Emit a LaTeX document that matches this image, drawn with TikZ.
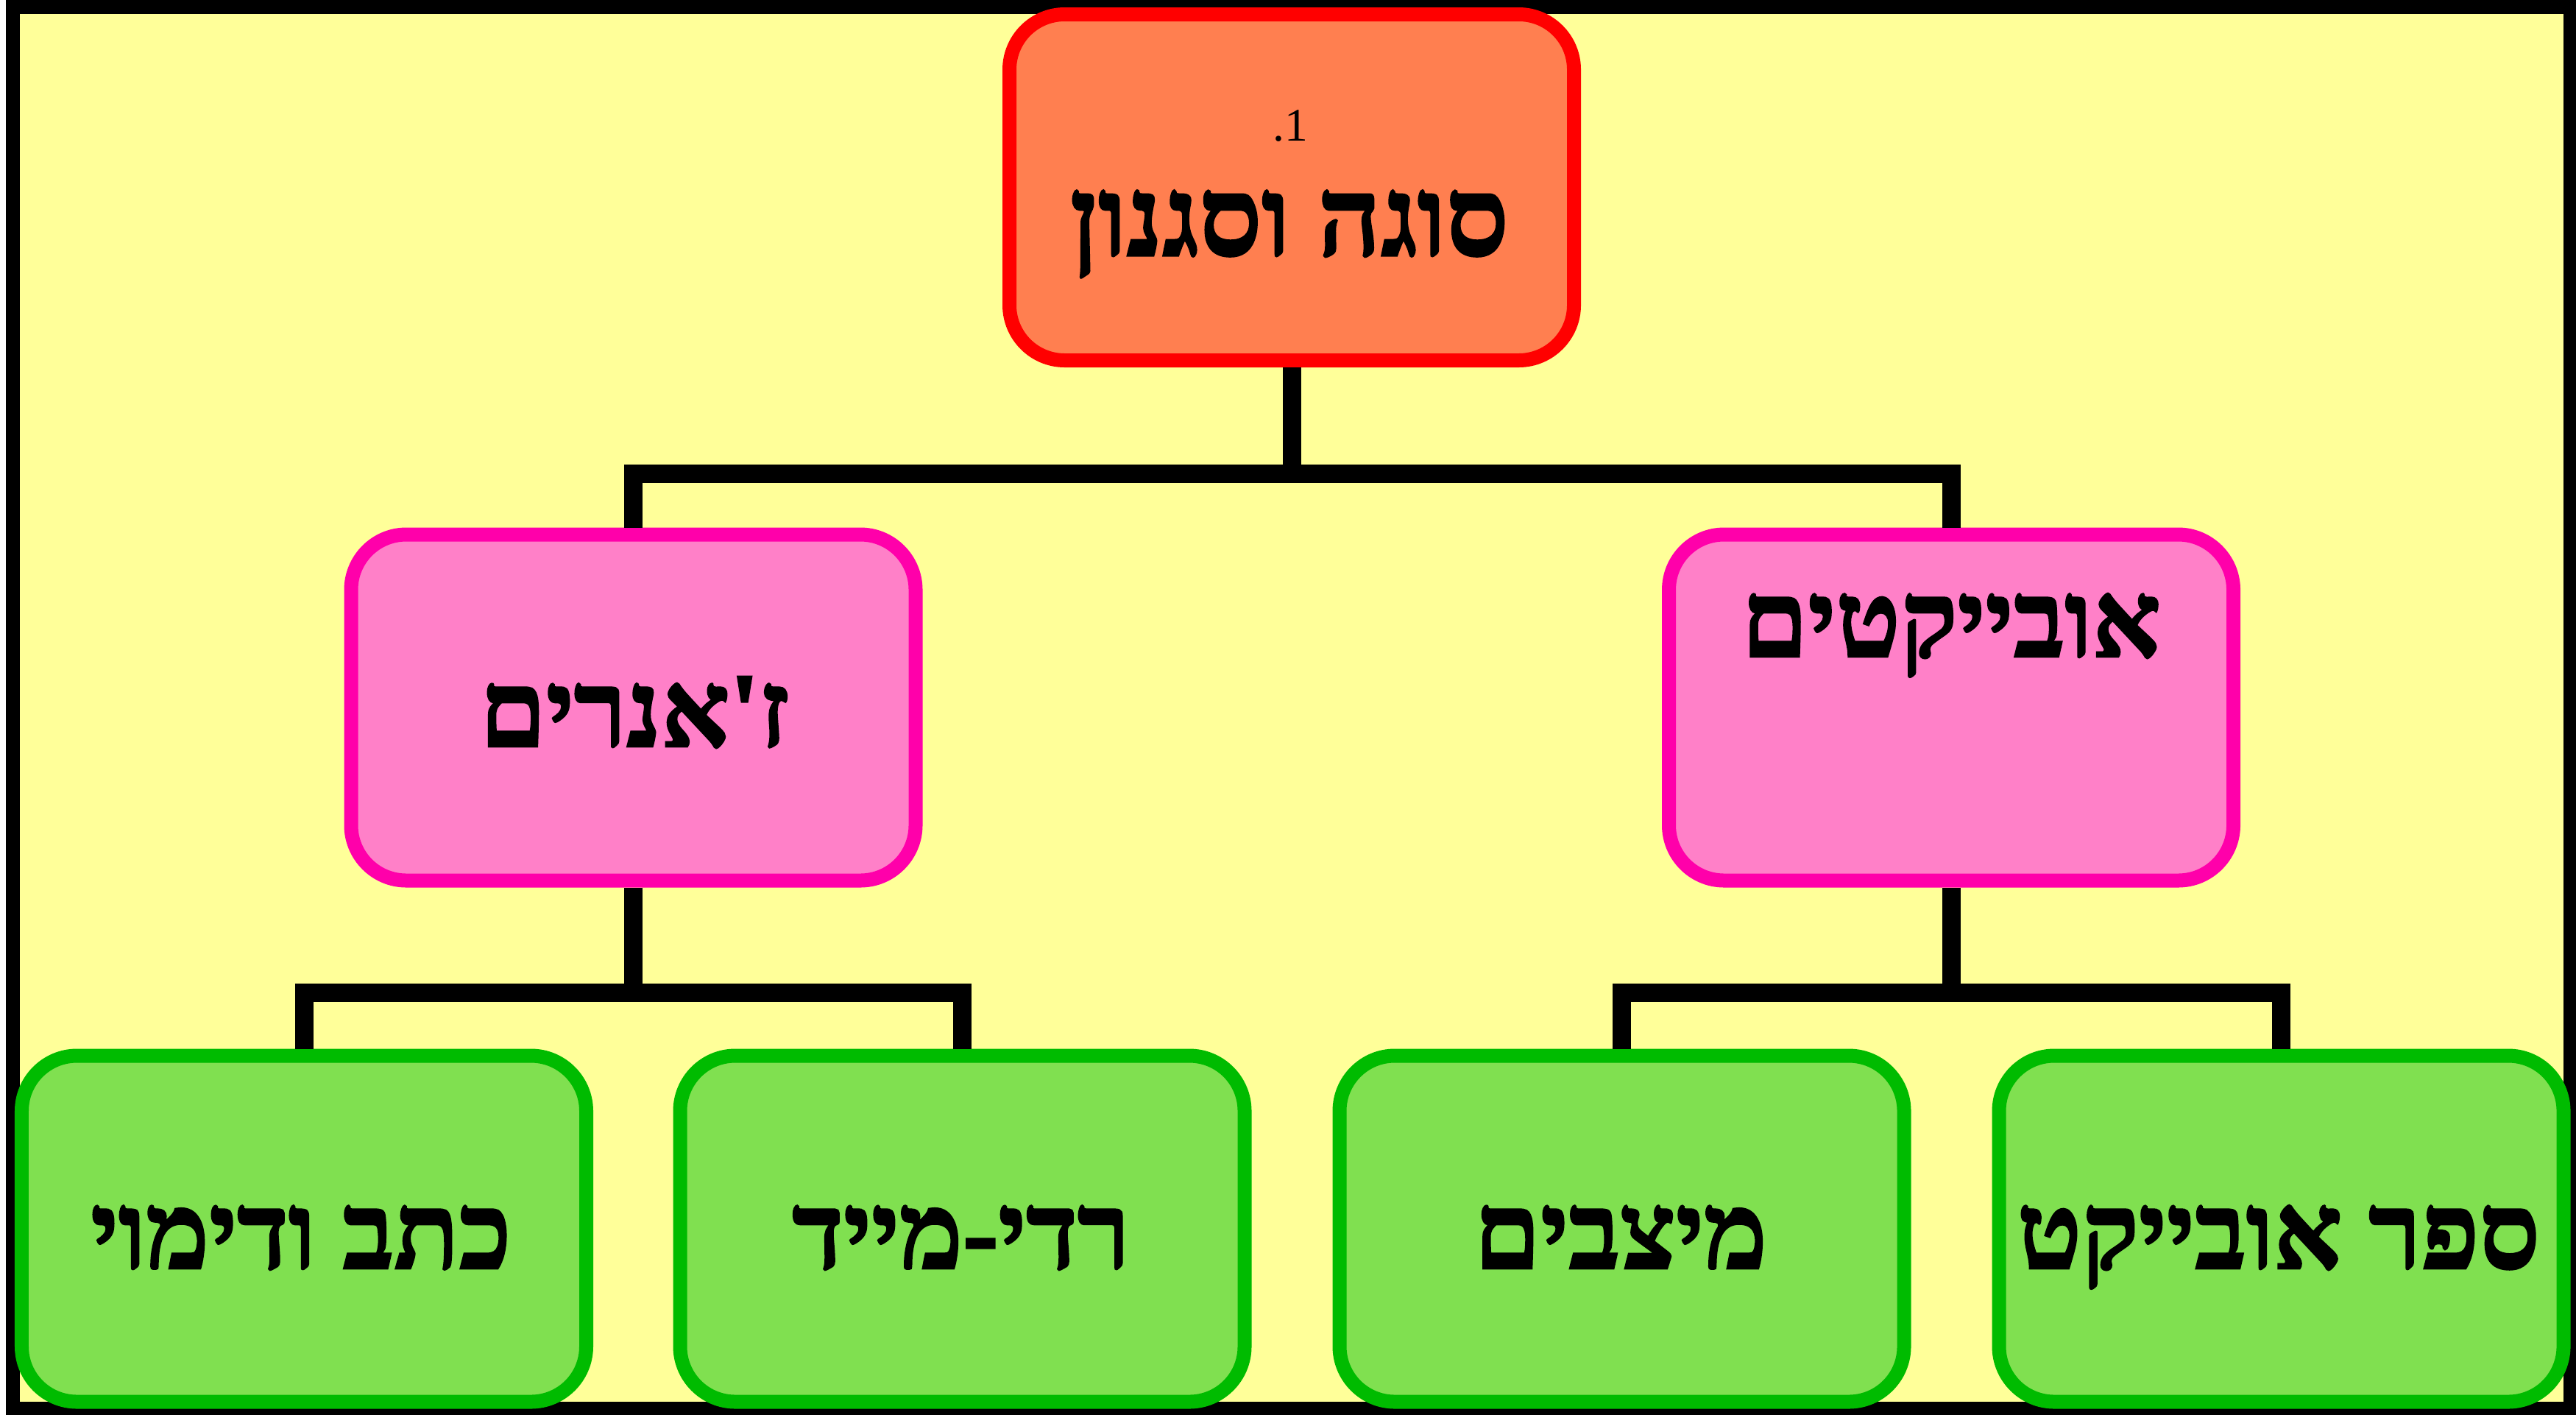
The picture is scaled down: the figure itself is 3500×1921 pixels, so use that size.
\documentclass[tikz,border=0pt]{standalone}
\usepackage{fontspec}
\TeXXeTstate=1
\newfontfamily\hebfont[Script=Hebrew,Ligatures=TeXOff,BoldFeatures={FakeBold=2}]{Liberation Serif}
\newfontfamily\numfont{Liberation Serif}
\definecolor{bgyellow}{HTML}{FFFF99}
\definecolor{rootfill}{HTML}{FF7F50}
\definecolor{rootdraw}{HTML}{FF0000}
\definecolor{midfill}{HTML}{FF80C8}
\definecolor{middraw}{HTML}{FF00AA}
\definecolor{leaffill}{HTML}{80E050}
\definecolor{leafdraw}{HTML}{00BB00}
\begin{document}
\begin{tikzpicture}[x=0.2pt,y=-0.2pt,
  box/.style={rectangle, rounded corners=15pt, line width=3.8pt,
    minimum width=153.4pt, minimum height=94pt, inner sep=0pt},
  rootbox/.style={box, draw=rootdraw, fill=rootfill},
  midbox/.style={box, draw=middraw, fill=midfill},
  leafbox/.style={box, draw=leafdraw, fill=leaffill},
  conn/.style={line width=5pt, draw=black, line join=miter},
  lbl/.style={anchor=base, inner sep=0pt,
    font=\hebfont\bfseries\fontsize{29pt}{34pt}\selectfont},
  titlelbl/.style={lbl, font=\hebfont\bfseries\fontsize{30pt}{35pt}\selectfont},
  numlbl/.style={anchor=base, inner sep=0pt,
    font=\numfont\fontsize{12.7pt}{15pt}\selectfont},
]
\useasboundingbox (0,0) rectangle (3500,1921);
\fill[white] (0,0) rectangle (3500,1921);
\draw[line width=3.8pt, fill=bgyellow] (17.5,9.5) rectangle (3492.5,1913.5);

% boxes
\node[rootbox] (root) at (1755,254.5) {};
\node[midbox] (genres) at (860.5,961) {};
\node[midbox] (objects) at (2651,961) {};
\node[leafbox] (writing) at (413,1669) {};
\node[leafbox] (readymade) at (1307.5,1669) {};
\node[leafbox] (install) at (2203.5,1669) {};
\node[leafbox] (book) at (3099.5,1669) {};

% junctions
\coordinate (j0) at (1755,643);
\coordinate (j1) at (860.5,1348);
\coordinate (j2) at (2651,1348);

% connectors
\draw[conn] (root.south) -- (j0);
\draw[conn] (genres.north) |- (j0) -| (objects.north);
\draw[conn] (genres.south) -- (j1);
\draw[conn] (writing.north) |- (j1) -| (readymade.north);
\draw[conn] (objects.south) -- (j2);
\draw[conn] (install.north) |- (j2) -| (book.north);

% texts
\node[numlbl] (num) at (1753,191) {.1};
\node[titlelbl] (troot) at (1752,347) {\beginR סוגה וסגנון\endR};
\node[lbl] (tgenres) at (862,1014) {\beginR ז'אנרים\endR};
\node[lbl] (tobjects) at (2651,892) {\beginR אובייקטים\endR};
\node[lbl] (twriting) at (409,1723) {\beginR כתב ודימוי\endR};
\node[lbl] (treadymade) at (1306,1723) {\beginR רדי-מייד\endR};
\node[lbl] (tinstall) at (2202,1723) {\beginR מיצבים\endR};
\node[lbl] (tbook) at (3096,1723) {\beginR ספר אובייקט\endR};
\end{tikzpicture}
\end{document}
